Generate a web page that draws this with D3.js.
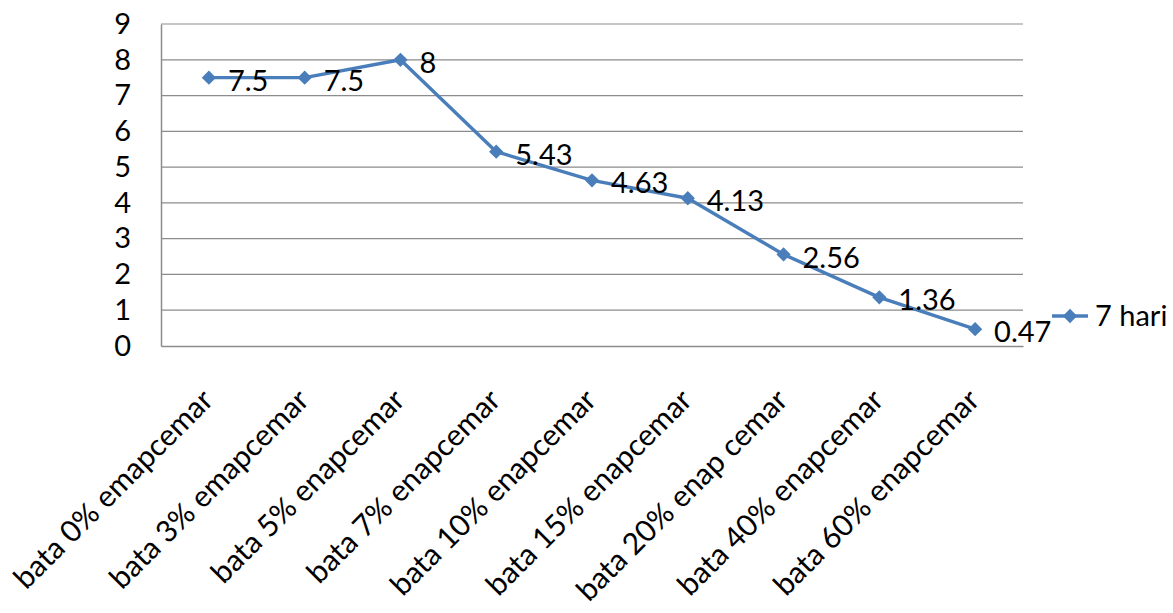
<!DOCTYPE html>
<html>
<head>
<meta charset="utf-8">
<script src="https://cdn.jsdelivr.net/npm/d3@7"></script>
<style>
  html, body { margin: 0; padding: 0; background: #fff; }
  svg { display: block; font-family: Lato, "Open Sans", sans-serif; }
</style>
</head>
<body>
<svg id="chart" width="1173" height="613"></svg>
<script>
// Categories along the x axis
const categories = [
  "bata 0% emapcemar",
  "bata 3% emapcemar",
  "bata 5% enapcemar",
  "bata 7% enapcemar",
  "bata 10% enapcemar",
  "bata 15% enapcemar",
  "bata 20% enap cemar",
  "bata 40% enapcemar",
  "bata 60% enapcemar"
];
// Series "7 hari"
const seriesName = "7 hari";
const values = [7.5, 7.5, 8, 5.43, 4.63, 4.13, 2.56, 1.36, 0.47];
// Y axis ticks
const yTicks = [0, 1, 2, 3, 4, 5, 6, 7, 8, 9];

const blue = "#4a7ebb";
const grid = "#8c8c8c";

const svg = d3.select("#chart");
const plot = { left: 161, right: 1023, top: 24, bottom: 346 };

const x = d3.scaleBand().domain(categories).range([plot.left, plot.right]);
const y = d3.scaleLinear().domain([0, 9]).range([plot.bottom, plot.top]);
const cx = d => x(d) + x.bandwidth() / 2;

// Horizontal gridlines
svg.append("g")
  .selectAll("line")
  .data(yTicks.filter(t => t > 0))
  .join("line")
  .attr("x1", plot.left).attr("x2", plot.right)
  .attr("y1", d => y(d)).attr("y2", d => y(d))
  .attr("stroke", grid).attr("stroke-width", 1.2);

// Y axis
const yAxis = svg.append("g")
  .attr("transform", `translate(${plot.left},0)`)
  .call(d3.axisLeft(y).tickValues(yTicks).tickSize(0).tickPadding(30));
yAxis.select(".domain").attr("stroke", grid).attr("stroke-width", 1.5);
yAxis.selectAll("text")
  .attr("font-size", 29).attr("fill", "#000")
  .attr("font-family", "Lato, 'Open Sans', sans-serif");

// X axis baseline
const xAxis = svg.append("g")
  .attr("transform", `translate(0,${plot.bottom})`)
  .call(d3.axisBottom(x).tickSize(0).tickFormat(""));
xAxis.select(".domain").attr("stroke", grid).attr("stroke-width", 1.5);

// Rotated category labels
svg.append("g")
  .selectAll("text")
  .data(categories)
  .join("text")
  .attr("transform", d => `translate(${cx(d) + 6},${plot.bottom + 56}) rotate(-45)`)
  .attr("text-anchor", "end")
  .attr("font-size", 30)
  .attr("fill", "#000")
  .text(d => d);

// Series line
const pts = categories.map((c, i) => ({ c, v: values[i] }));
svg.append("path")
  .datum(pts)
  .attr("fill", "none")
  .attr("stroke", blue)
  .attr("stroke-width", 3.4)
  .attr("stroke-linejoin", "round")
  .attr("d", d3.line().x(d => cx(d.c)).y(d => y(d.v)));

// Diamond markers
const diamond = d3.symbol().type(d3.symbolDiamond2).size(130);
svg.append("g")
  .selectAll("path")
  .data(pts)
  .join("path")
  .attr("transform", d => `translate(${cx(d.c)},${y(d.v)})`)
  .attr("d", diamond)
  .attr("fill", blue);

// Value labels
svg.append("g")
  .selectAll("text")
  .data(pts)
  .join("text")
  .attr("x", d => cx(d.c) + 19)
  .attr("y", d => y(d.v) + 3)
  .attr("dy", "0.35em")
  .attr("font-size", 29)
  .attr("fill", "#000")
  .text(d => String(d.v));

// Legend
const lg = svg.append("g").attr("transform", "translate(1052,316)");
lg.append("line").attr("x1", 0).attr("x2", 36).attr("stroke", blue).attr("stroke-width", 3.4);
lg.append("path").attr("transform", "translate(18,0)").attr("d", diamond).attr("fill", blue);
lg.append("text")
  .attr("x", 43).attr("dy", "0.35em")
  .attr("font-size", 29).attr("fill", "#000")
  .text(seriesName);
</script>
</body>
</html>
